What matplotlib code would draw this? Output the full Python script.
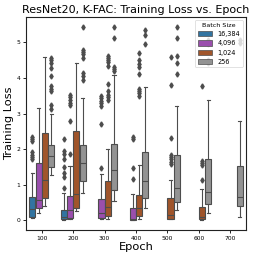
import matplotlib
matplotlib.use('Agg')
import matplotlib.pyplot as plt
import matplotlib.patches as mpatches
import numpy as np

# data (rows: batch size, cols: epoch); None = no box
epochs = [100, 200, 300, 400, 500, 600, 700]
batch_sizes = ['16,384', '4,096', '1,024', '256']
colors = ['#3274a1', '#9a4fad', '#a0552b', '#939393']

q1 = [
    [0.09, 0.04, None, None, None, None, None],
    [0.34, 0.07, 0.06, 0.01, None, None, None],
    [0.63, 0.35, 0.12, 0.12, 0.05, 0.04, None],
    [1.50, 1.12, 0.86, 0.63, 0.53, 0.47, 0.42],
]
medians = [
    [0.33, 0.09, None, None, None, None, None],
    [0.57, 0.28, 0.22, 0.03, None, None, None],
    [1.14, 0.74, 0.39, 0.35, 0.15, 0.10, None],
    [1.82, 1.60, 1.42, 1.10, 0.91, 0.80, 0.66],
]
q3 = [
    [0.67, 0.30, None, None, None, None, None],
    [1.60, 0.70, 0.61, 0.35, None, None, None],
    [2.46, 2.52, 1.10, 0.72, 0.63, 0.38, None],
    [2.13, 2.12, 2.15, 1.93, 1.84, 1.72, 1.54],
]
whislo = [
    [0.07, 0.02, None, None, None, None, None],
    [0.20, 0.05, 0.04, 0.00, None, None, None],
    [0.42, 0.27, 0.05, 0.05, 0.03, 0.02, None],
    [1.28, 0.78, 0.55, 0.35, 0.28, 0.22, 0.10],
]
whishi = [
    [1.33, 0.77, None, None, None, None, None],
    [3.16, 1.53, 1.31, 0.75, None, None, None],
    [4.58, 4.43, 2.00, 1.57, 1.14, 0.88, None],
    [3.00, 3.43, 4.08, 3.74, 3.22, 3.37, 2.80],
]
fliers = [
    [[2.35, 2.29, 2.22, 1.93, 1.85, 1.78, 1.72],
     [2.29, 1.96, 1.87, 1.72, 1.51, 1.33, 1.23, 0.90],
     [], [], [], [], []],
    [[],
     [3.52, 3.45, 3.38, 3.30, 3.25, 2.78, 1.87],
     [3.50, 3.43, 3.36, 3.29, 3.20, 2.72, 1.48],
     [2.33, 2.29, 1.47, 1.15],
     [], [], []],
    [[], [],
     [4.62, 4.55, 4.50, 4.45, 4.32, 3.84, 3.62, 3.53, 3.45, 3.37],
     [4.70, 4.50, 4.40, 4.30, 4.10, 3.70, 3.64, 3.57, 3.50],
     [4.58, 3.80, 2.31, 1.85, 1.78, 1.72, 1.65, 1.58],
     [3.78, 1.68, 1.62, 1.55, 1.13],
     []],
    [[4.55, 4.50, 4.43, 4.27, 4.05, 3.78, 3.70, 3.62, 3.25, 3.12],
     [5.44, 4.78, 4.73, 4.68, 4.56, 4.13, 4.05, 3.95],
     [5.44, 5.11, 4.30, 4.24, 4.18],
     [5.35, 5.20, 4.94],
     [5.43, 5.11, 4.60, 4.42, 4.11],
     [5.05, 4.95, 4.50, 4.42],
     [5.07, 4.98]],
]

line_color = '#4d4d4d'
fig = plt.figure(figsize=(2.58, 2.6), dpi=100)
ax = fig.add_axes([0.101, 0.115, 0.852, 0.82])

n_hue = len(batch_sizes)
each_w = 0.8 / n_hue
offsets = np.linspace(-0.4 + each_w / 2, 0.4 - each_w / 2, n_hue)

for h in range(n_hue):
    stats = []
    pos = []
    for i in range(len(epochs)):
        if medians[h][i] is None:
            continue
        stats.append(dict(med=medians[h][i], q1=q1[h][i], q3=q3[h][i],
                          whislo=whislo[h][i], whishi=whishi[h][i],
                          fliers=fliers[h][i]))
        pos.append(i + offsets[h])
    ax.bxp(stats, positions=pos, widths=each_w * 0.98, patch_artist=True,
           manage_ticks=False,
           boxprops=dict(facecolor=colors[h], edgecolor=line_color, linewidth=0.8),
           medianprops=dict(color=line_color, linewidth=0.8),
           whiskerprops=dict(color=line_color, linewidth=0.8),
           capprops=dict(color=line_color, linewidth=0.8),
           flierprops=dict(marker='d', markersize=2.6, markerfacecolor=line_color,
                           markeredgecolor=line_color, linestyle='none'))

ax.set_xlim(-0.5, len(epochs) - 0.5)
ax.set_ylim(-0.27, 5.71)
ax.set_xticks(range(len(epochs)))
ax.set_xticklabels([str(e) for e in epochs])
ax.set_yticks(range(6))
ax.tick_params(labelsize=4.3, length=2.5, width=0.6, pad=1.5)
for s in ax.spines.values():
    s.set_linewidth(0.8)
    s.set_color('#222222')

ax.set_title('ResNet20, K-FAC: Training Loss vs. Epoch', fontsize=8.0, pad=3)
ax.set_xlabel('Epoch', fontsize=8.2, labelpad=1)
ax.set_ylabel('Training Loss', fontsize=8.2, labelpad=2)

handles = [mpatches.Patch(facecolor=c, edgecolor=line_color, linewidth=0.5, label=b)
           for c, b in zip(colors, batch_sizes)]
leg = ax.legend(handles=handles, title='Batch Size', loc='upper right',
                fontsize=4.7, title_fontsize=4.6, handlelength=2.2,
                handleheight=0.9, labelspacing=0.5, borderaxespad=0.5)
leg.get_frame().set_linewidth(0.5)

fig.savefig('out.png', dpi=100)
